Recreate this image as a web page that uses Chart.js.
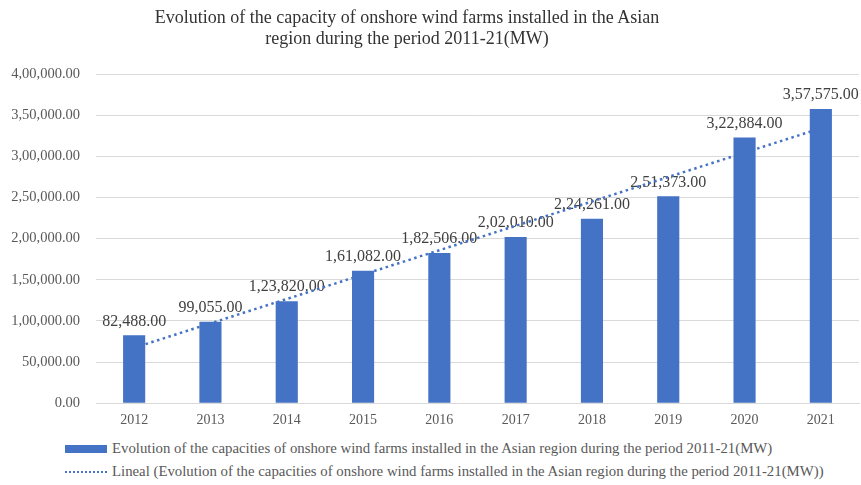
<!DOCTYPE html>
<html>
<head>
<meta charset="utf-8">
<script src="https://cdn.jsdelivr.net/npm/chart.js@4"></script>
<style>
  body { margin: 0; background: #fff; font-family: "Liberation Serif", "Times New Roman", serif; }
  #wrap { position: relative; width: 861px; height: 485px; }
  #title { position: absolute; left: 0; top: 7px; width: 814px; text-align: center; font-size: 18px; line-height: 21px; color: #333; }
  #chartBox { position: absolute; left: 0; top: 0; width: 861px; height: 438px; }
  .legendRow { position: absolute; left: 65px; font-size: 14.8px; color: #595959; display: flex; align-items: center; white-space: nowrap; }
  .swatchBar { width: 42px; height: 8px; background: #4472C4; margin-right: 5px; }
  .swatchLine { width: 42px; height: 0; border-top: 2px dotted #4472C4; margin-right: 5px; }
</style>
</head>
<body>
<div id="wrap">
  <div id="chartBox"><canvas id="windChart"></canvas></div>
  <div id="title">Evolution of the capacity of onshore wind farms installed in the Asian<br>region during the period 2011-21(MW)</div>
  <div class="legendRow" style="top:440px"><div class="swatchBar"></div><span id="lgBar"></span></div>
  <div class="legendRow" style="top:463px"><div class="swatchLine"></div><span id="lgLine"></span></div>
</div>
<script>
const years = ['2012', '2013', '2014', '2015', '2016', '2017', '2018', '2019', '2020', '2021'];
const capacityMW = [82488, 99055, 123820, 161082, 182506, 202010, 224261, 251373, 322884, 357575];
// linear trend, value at first and last year
const trendEnds = [67358, 334052];
const seriesName = 'Evolution of the capacities of onshore wind farms installed in the Asian region during the period 2011-21(MW)';
const trendName = 'Lineal (' + seriesName + ')';

document.getElementById('lgBar').textContent = seriesName;
document.getElementById('lgLine').textContent = trendName;

// Indian digit grouping: 3,57,575.00
function fmtIN(v) {
    const fixed = Math.abs(v).toFixed(2);
    let [intPart, dec] = fixed.split('.');
    let out = intPart;
    if (intPart.length > 3) {
        const last3 = intPart.slice(-3);
        let rest = intPart.slice(0, -3);
        rest = rest.replace(/\B(?=(\d{2})+(?!\d))/g, ',');
        out = rest + ',' + last3;
    }
    return (v < 0 ? '-' : '') + out + '.' + dec;
}

const trendData = years.map((_, i) => i === 0 ? trendEnds[0] : (i === years.length - 1 ? trendEnds[1] : null));

// value labels go on right after the bars, so the trend line passes over them
const valueLabels = {
    id: 'valueLabels',
    afterDatasetDraw(chart, args) {
        if (args.index !== 1) return;
        const ctx = chart.ctx;
        ctx.save();
        ctx.font = '16px "Liberation Serif", serif';
        ctx.fillStyle = '#404040';
        ctx.textAlign = 'center';
        ctx.textBaseline = 'bottom';
        args.meta.data.forEach((bar, i) => {
            ctx.fillText(fmtIN(capacityMW[i]), bar.x, bar.y - 6);
        });
        ctx.restore();
    }
};

const ctx = document.getElementById('windChart').getContext('2d');
new Chart(ctx, {
    type: 'bar',
    data: {
        labels: years,
        datasets: [{
            type: 'line',
            label: trendName,
            data: trendData,
            spanGaps: true,
            borderColor: '#4472C4',
            borderWidth: 2.5,
            borderDash: [2.5, 3.5],
            pointRadius: 0,
            fill: false,
            order: 0
        }, {
            label: seriesName,
            data: capacityMW,
            backgroundColor: '#4472C4',
            barPercentage: 0.29,
            categoryPercentage: 1,
            order: 1
        }]
    },
    options: {
        responsive: true,
        maintainAspectRatio: false,
        animation: false,
        layout: { padding: { top: 74, right: 2, bottom: 0, left: 0 } },
        plugins: {
            legend: { display: false },
            tooltip: { enabled: false }
        },
        scales: {
            x: {
                grid: { display: false, drawTicks: false },
                border: { color: '#d9d9d9' },
                ticks: {
                    color: '#595959',
                    font: { family: '"Liberation Serif", serif', size: 14 },
                    padding: 9
                }
            },
            y: {
                min: 0,
                max: 400000,
                afterFit: s => { s.width = 96; },
                grid: { color: '#d9d9d9', drawTicks: false },
                border: { display: false },
                ticks: {
                    stepSize: 50000,
                    color: '#595959',
                    padding: 16,
                    font: { family: '"Liberation Serif", serif', size: 14.5 },
                    callback: v => fmtIN(v)
                }
            }
        }
    },
    plugins: [valueLabels]
});
</script>
</body>
</html>
